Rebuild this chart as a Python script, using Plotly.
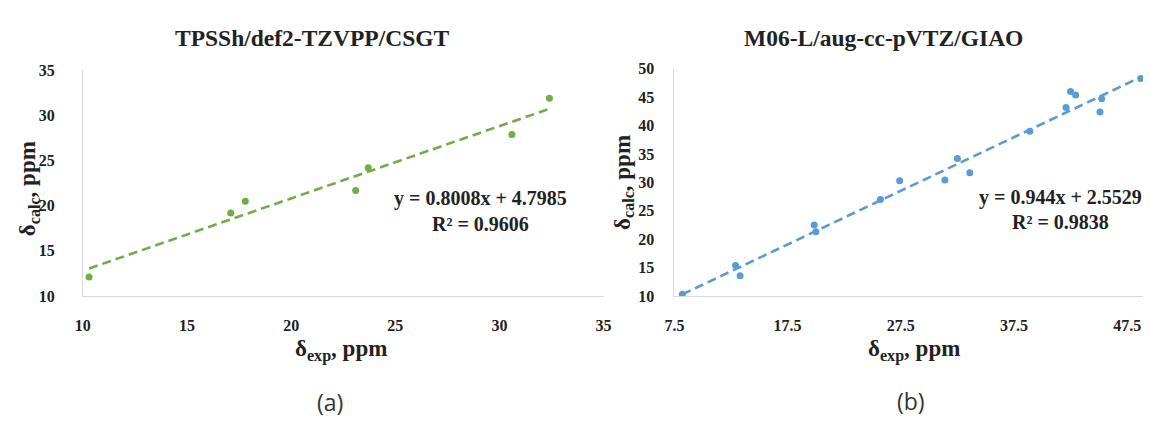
import plotly.graph_objects as go

# ---- data (a) TPSSh/def2-TZVPP/CSGT ----
exp_a = [10.3, 17.1, 17.8, 23.1, 23.7, 30.6, 32.4]
calc_a = [12.1, 19.2, 20.5, 21.7, 24.2, 27.9, 31.9]
slope_a, intercept_a, r2_a = 0.8008, 4.7985, 0.9606

# ---- data (b) M06-L/aug-cc-pVTZ/GIAO ----
exp_b = [8.2, 12.9, 13.3, 19.85, 20.0, 25.7, 27.4, 31.4, 32.5, 33.6,
         38.9, 42.1, 42.5, 42.95, 45.1, 45.25, 48.7]
calc_b = [10.3, 15.35, 13.55, 22.5, 21.3, 27.0, 30.3, 30.4, 34.2, 31.7,
          39.0, 43.2, 46.0, 45.4, 42.4, 44.7, 48.3]
slope_b, intercept_b, r2_b = 0.944, 2.5529, 0.9838

ticks_a_x = [10, 15, 20, 25, 30, 35]
ticks_a_y = [10, 15, 20, 25, 30, 35]
ticks_b_x = [7.5, 17.5, 27.5, 37.5, 47.5]
ticks_b_y = [10, 15, 20, 25, 30, 35, 40, 45, 50]

GREEN = "#70AD47"
BLUE = "#5B9BD5"
AXIS = "#d9d9d9"
SERIF = "Liberation Serif"

W, H = 1151, 424
def px(x):
    return x / W
def py(y):
    return 1 - y / H

fig = go.Figure()

# trendlines
tx_a = [min(exp_a), max(exp_a)]
fig.add_trace(go.Scatter(x=tx_a, y=[slope_a * v + intercept_a for v in tx_a],
                         mode="lines", line=dict(color=GREEN, width=2.6, dash="9px,5px"),
                         xaxis="x", yaxis="y", showlegend=False, hoverinfo="skip"))
tx_b = [min(exp_b), max(exp_b)]
fig.add_trace(go.Scatter(x=tx_b, y=[slope_b * v + intercept_b for v in tx_b],
                         mode="lines", line=dict(color=BLUE, width=2.6, dash="9px,5px"),
                         xaxis="x2", yaxis="y2", showlegend=False, hoverinfo="skip"))
# points
fig.add_trace(go.Scatter(x=exp_a, y=calc_a, mode="markers",
                         marker=dict(color=GREEN, size=7), xaxis="x", yaxis="y",
                         showlegend=False))
fig.add_trace(go.Scatter(x=exp_b, y=calc_b, mode="markers",
                         marker=dict(color=BLUE, size=7), xaxis="x2", yaxis="y2",
                         showlegend=False))

tickfont = dict(family=SERIF, size=16, color="#222222", weight="bold")
common = dict(showgrid=False, zeroline=False, showline=True, linecolor=AXIS,
              linewidth=1, ticks="outside", tickcolor="rgba(0,0,0,0)",
              tickfont=tickfont, fixedrange=True)

fig.update_layout(
    width=W, height=H,
    margin=dict(l=0, r=0, t=0, b=0),
    paper_bgcolor="white", plot_bgcolor="white",
    xaxis=dict(domain=[px(74), px(603)], range=[10, 35], tickvals=ticks_a_x,
               ticklen=15, anchor="y", **common),
    yaxis=dict(domain=[py(300), py(65)], range=[10, 35], tickvals=ticks_a_y,
               ticklen=24, anchor="x", **common),
    xaxis2=dict(domain=[px(675), 1.0], range=[7.5, 48.9], tickvals=ticks_b_x,
                ticktext=[str(v) for v in ticks_b_x],
                ticklen=15, anchor="y2", **common),
    yaxis2=dict(domain=[py(300), py(63.3)], range=[10, 50], tickvals=ticks_b_y,
                ticklen=16, anchor="x2", **common),
)

def ann(x, y, text, size, family=SERIF, bold=True, angle=0, color="#222222"):
    fig.add_annotation(x=px(x), y=py(y), xref="paper", yref="paper", text=text,
                       showarrow=False, textangle=angle, xanchor="center", yanchor="middle",
                       font=dict(family=family, size=size, color=color,
                                 weight="bold" if bold else "normal"))

# titles
ann(307, 31, "TPSSh/def2-TZVPP/CSGT", 23.5)
ann(887, 31, "M06-L/aug-cc-pVTZ/GIAO", 23.5)
# axis titles
ann(336, 357, "δ<sub>exp</sub>, ppm", 23)
ann(918, 357, "δ<sub>exp</sub>, ppm", 23)
ann(20, 188, "δ<sub>calc</sub>, ppm", 23, angle=-90)
ann(623, 182, "δ<sub>calc</sub>, ppm", 23, angle=-90)
# equations
ann(477.5, 198, f"y = {slope_a}x + {intercept_a}", 20)
ann(477.5, 225, f"R² = {r2_a}", 20)
ann(1067.5, 197, f"y = {slope_b}x + {intercept_b}", 20)
ann(1067.5, 223, f"R² = {r2_b}", 20)
# panel labels
ann(325, 410, "(a)", 23, family="Open Sans", bold=False, color="#333333")
ann(915, 409, "(b)", 23, family="Open Sans", bold=False, color="#333333")

fig.write_html("out.html", config={"displayModeBar": False},
               post_script="document.body.style.margin='0';document.body.style.overflow='hidden';")
